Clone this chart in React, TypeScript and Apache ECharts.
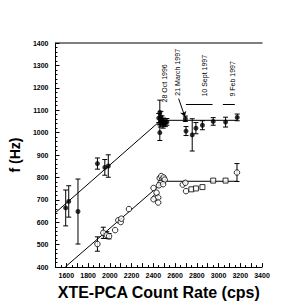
import React, { useEffect, useRef } from 'react';
import * as echarts from 'echarts';

// ---- data (count rate cps, frequency Hz, error Hz) ----
const xRange = [1500, 3400];
const yRange = [400, 1400];

const upperQPO: [number, number, number][] = [
  [1594, 664, 80], [1622, 693, 70], [1707, 648, 145], [1886, 862, 25], [1954, 845, 35], [1986, 851, 50],
  [2450, 1065, 20], [2460, 1090, 55], [2470, 1070, 25], [2480, 1055, 20], [2465, 1045, 20],
  [2495, 1050, 15], [2510, 1045, 18], [2525, 1048, 15], [2490, 1035, 15], [2460, 1000, 35],
  [2695, 1062, 12], [2701, 1007, 20], [2758, 990, 72], [2792, 1020, 25], [2852, 1033, 20],
  [2951, 1050, 17], [3065, 1047, 22], [3172, 1068, 15],
];

const lowerQPOcircles: [number, number, number][] = [
  [1886, 503, 32], [1940, 553, 25], [1972, 543, 15], [1993, 538, 12], [2049, 565, 0],
  [2078, 609, 0], [2100, 601, 0], [2106, 616, 0], [2176, 659, 0],
  [2402, 753, 0], [2417, 710, 0], [2430, 732, 0], [2445, 710, 0], [2445, 688, 0], [2402, 703, 0],
  [2459, 797, 0], [2473, 806, 0], [2480, 790, 0], [2487, 783, 0], [2495, 800, 0], [2465, 775, 0],
  [2505, 790, 0], [2452, 765, 0], [2490, 770, 0],
  [2671, 768, 0], [2695, 776, 0], [2701, 739, 0], [3170, 822, 40],
];

const lowerQPOsquares: [number, number][] = [
  [2750, 747], [2792, 751], [2852, 757], [2951, 786], [3065, 786],
];

const upperFit: [number, number][] = [[1500, 643], [2469, 1055], [3175, 1055]];
const lowerFit: [number, number][] = [[1591, 401], [2500, 783], [3175, 783]];

const annotationTexts = ['28 Oct 1996', '21 March 1997', '10 Sept 1997', '9 Feb 1997'];
const annotationAnchors: [number, number][] = [[2505, 1135], [2625, 1165], [2870, 1161], [3125, 1161]];
const bracketSegments: [number, number, number][] = [[2700, 2945, 1126], [3040, 3150, 1126]];
const arrowFromTo: [number, number][] = [[2633, 1152], [2690, 1072]];

const FONT = "'Liberation Sans', Arial, Helvetica, sans-serif";

function errorBars(data: [number, number, number][]) {
  return {
    type: 'custom',
    data: data.filter((d) => d[2] > 0).map((d) => [d[0], d[1] - d[2], d[1] + d[2]]),
    encode: { x: 0, y: [1, 2] },
    z: 3,
    renderItem: (params: any, api: any) => {
      const x = api.value(0);
      const lo = api.coord([x, api.value(1)]);
      const hi = api.coord([x, api.value(2)]);
      const c = 2.5;
      const st = { stroke: '#000', lineWidth: 1 };
      return {
        type: 'group',
        children: [
          { type: 'line', shape: { x1: lo[0], y1: lo[1], x2: hi[0], y2: hi[1] }, style: st },
          { type: 'line', shape: { x1: lo[0] - c, y1: lo[1], x2: lo[0] + c, y2: lo[1] }, style: st },
          { type: 'line', shape: { x1: hi[0] - c, y1: hi[1], x2: hi[0] + c, y2: hi[1] }, style: st },
        ],
      };
    },
  };
}

export default function App() {
  const ref = useRef<HTMLDivElement>(null);
  useEffect(() => {
    if (!ref.current) return;
    const chart = echarts.init(ref.current, null, { renderer: 'svg' });
    const axisLabel = { fontSize: 7, color: '#000', fontFamily: FONT, fontWeight: 'bold' as const };
    chart.setOption({
      animation: false,
      backgroundColor: '#fff',
      grid: { left: 39, right: 38, top: 43, bottom: 33 },
      xAxis: [
        {
          type: 'value', min: xRange[0], max: xRange[1], interval: 100,
          splitLine: { show: false },
          axisLine: { lineStyle: { color: '#000', width: 1 } },
          axisTick: { inside: true, length: 4, lineStyle: { color: '#000' } },
          minorTick: { show: true, splitNumber: 2, length: 2, lineStyle: { color: '#000' } },
          axisLabel: { ...axisLabel, margin: 5, formatter: (v: number) => (v % 200 === 0 ? String(v) : '') },
          name: 'XTE-PCA Count Rate (cps)', nameLocation: 'middle', nameGap: 12,
          nameTextStyle: { fontSize: 16, fontWeight: 'bold', color: '#000', fontFamily: FONT },
        },
        {
          type: 'value', position: 'top', min: xRange[0], max: xRange[1],
          splitLine: { show: false }, axisTick: { show: false }, axisLabel: { show: false },
          axisLine: { show: true, lineStyle: { color: '#555', width: 1.5 } },
        },
      ],
      yAxis: {
        type: 'value', min: yRange[0], max: yRange[1], interval: 100,
        splitLine: { show: false },
        axisLine: { show: true, lineStyle: { color: '#000', width: 1 } },
        axisTick: { show: true, inside: true, length: 4, lineStyle: { color: '#000' } },
        minorTick: { show: true, splitNumber: 5, length: 2, lineStyle: { color: '#000' } },
        axisLabel: { ...axisLabel, margin: 7, formatter: (v: number) => String(v) },
        name: 'f (Hz)', nameLocation: 'middle', nameGap: 26, nameRotate: 90,
        nameTextStyle: { fontSize: 14, fontWeight: 'bold', color: '#000', fontFamily: FONT },
      },
      series: [
        { type: 'line', data: upperFit, symbol: 'none', lineStyle: { color: '#000', width: 1 }, z: 1 },
        { type: 'line', data: lowerFit, symbol: 'none', lineStyle: { color: '#000', width: 1 }, z: 1 },
        errorBars(upperQPO),
        errorBars(lowerQPOcircles),
        {
          type: 'scatter', data: upperQPO.map((d) => [d[0], d[1]]), symbol: 'circle', symbolSize: 5,
          itemStyle: { color: '#000' }, z: 4,
        },
        {
          type: 'scatter', data: lowerQPOcircles.map((d) => [d[0], d[1]]), symbol: 'circle', symbolSize: 5.5,
          itemStyle: { color: '#fff', borderColor: '#000', borderWidth: 1 }, z: 4,
        },
        {
          type: 'scatter', data: lowerQPOsquares, symbol: 'rect', symbolSize: 5,
          itemStyle: { color: '#fff', borderColor: '#000', borderWidth: 1 }, z: 4,
        },
        {
          type: 'line', data: [], symbol: 'none',
          markLine: {
            silent: true, symbol: ['none', 'none'], label: { show: false },
            lineStyle: { color: '#000', width: 1, type: 'solid' },
            data: [
              ...bracketSegments.map((s) => [{ coord: [s[0], s[2]] }, { coord: [s[1], s[2]] }]),
            ],
          },
        },
        {
          type: 'line', data: [], symbol: 'none',
          markLine: {
            silent: true, symbol: ['none', 'arrow'], symbolSize: 5, label: { show: false },
            lineStyle: { color: '#000', width: 1, type: 'solid' },
            data: [[{ coord: arrowFromTo[0] }, { coord: arrowFromTo[1] }]],
          },
        },
      ],
    });
    const graphic = annotationTexts.map((t, i) => {
      const p = chart.convertToPixel({ gridIndex: 0 }, annotationAnchors[i]) as number[];
      return {
        type: 'text', x: p[0], y: p[1], rotation: Math.PI / 2,
        style: { text: t, fontSize: 7, fontFamily: FONT, fill: '#000', align: 'left', verticalAlign: 'middle' },
      };
    });
    chart.setOption({ graphic });
    return () => chart.dispose();
  }, []);
  return <div ref={ref} style={{ position: 'absolute', left: 0, top: 0, width: 300, height: 305 }} />;
}
